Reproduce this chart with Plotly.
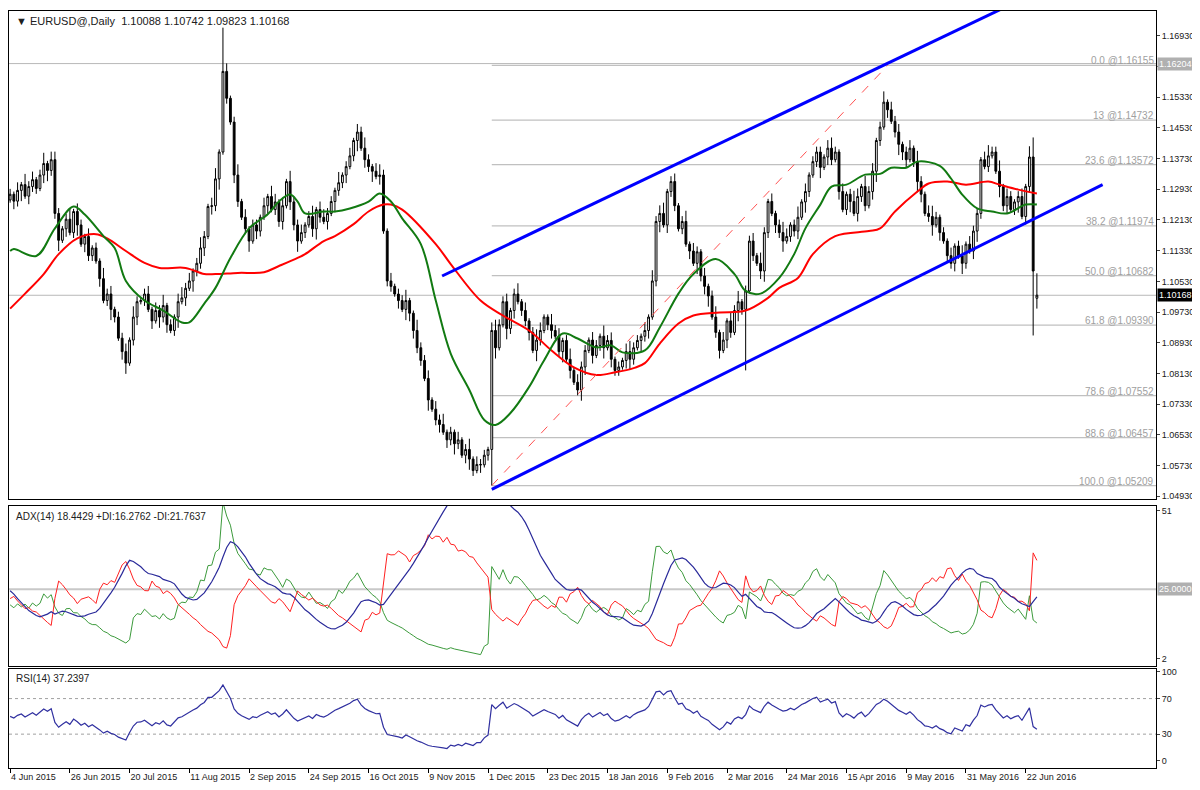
import pandas as pd
import numpy as np
import plotly.graph_objects as go

# daily closes, pips above 1.0000 (1280 -> 1.1280), 4 Jun 2015 .. 27 Jun 2016
closes = [
    1280, 1262, 1290, 1305, 1275, 1300, 1318, 1295, 1330, 1360,
    1342, 1370, 1230, 1160, 1190, 1215, 1180, 1235, 1200, 1150,
    1170, 1120, 1140, 1106, 1060, 1003, 1020, 980, 960, 905,
    870, 840, 900, 960, 1000, 1003, 1020, 980, 950, 977,
    960, 990, 940, 925, 960, 1000, 1010, 1035, 1054, 1080,
    1100, 1140, 1170, 1248, 1250, 1320, 1390, 1600, 1530, 1468,
    1330, 1261, 1220, 1190, 1158, 1200, 1184, 1220, 1250, 1274,
    1240, 1260, 1209, 1250, 1313, 1260, 1200, 1158, 1180, 1200,
    1222, 1190, 1240, 1220, 1209, 1230, 1261, 1290, 1310, 1330,
    1352, 1380, 1420, 1442, 1400, 1370, 1352, 1340, 1326, 1330,
    1184, 1054, 1040, 1020, 1003, 980, 1003, 970, 925, 880,
    847, 800, 744, 720, 692, 680, 660, 640, 660, 630,
    640, 600, 615, 590, 560, 576, 575, 600, 615, 925,
    880, 940, 1000, 930, 977, 1020, 1000, 977, 950, 920,
    873, 900, 925, 960, 940, 925, 910, 870, 899, 850,
    821, 790, 770, 830, 873, 900, 860, 886, 910, 880,
    899, 850, 821, 830, 847, 870, 850, 880, 899, 910,
    925, 960, 1054, 1209, 1230, 1200, 1287, 1313, 1250, 1190,
    1209, 1150, 1132, 1100, 1130, 1067, 1040, 1015, 960, 920,
    873, 900, 950, 920, 977, 1000, 980, 1028, 1158, 1120,
    1100, 1080, 1180, 1261, 1230, 1200, 1180, 1158, 1170, 1200,
    1184, 1220, 1260, 1287, 1330, 1365, 1390, 1350, 1377, 1400,
    1370, 1390, 1287, 1240, 1280, 1261, 1230, 1274, 1300, 1250,
    1287, 1340, 1420, 1455, 1520, 1500, 1470, 1442, 1410, 1390,
    1370, 1400, 1365, 1313, 1280, 1230, 1222, 1200, 1220, 1180,
    1158, 1120, 1100, 1145, 1119, 1100, 1150, 1132, 1184, 1230,
    1370, 1352, 1380, 1390, 1340, 1300, 1250, 1274, 1240, 1260,
    1274, 1222, 1300, 1377, 1080, 1017,
]
first_open = 1265
market_holidays = ["2015-12-25", "2016-01-01"]
# wick lengths per bar, units of 7 pips
wick_up = ("213142312413" "321241321312" "142312231421" "231324121342" "312421341231"
           "241312213143" "131422312413" "322141231324" "213421312241" "142231324121"
           "312413221342" "231241312431" "142312413221" "321423121342" "213142341231"
           "241321312413" "132412231421" "312431241312" "221342131243" "142312413231"
           "231421342121" "312413221342" "241321231413")
wick_dn = ("132413221342" "241312413221" "312421341231" "213142312413" "142231324121"
           "321241321312" "231324121342" "131422312413" "241312213143" "322141231324"
           "213421312241" "142312231421" "231241312431" "312413221342" "142312413221"
           "213142341231" "321423121342" "132412231421" "241321312413" "221342131243"
           "312431241312" "231421342121" "142312413231")
# bars with notable extremes: index -> (open, high, low)
special = {57: (None, 1714, None), 129: (None, None, 521), 197: (None, None, 821),
           274: (None, 1428, 912), 275: (1009, 1074, 982)}

# moving averages: (bar index, price)
ma_fast_idx = [0, 1, 7, 12, 17, 20, 25, 28, 31, 36, 41, 46, 48, 52, 55, 59, 64, 69, 72, 75, 77, 79, 84, 87,
               91, 96, 99, 102, 105, 110, 114, 118, 123, 127, 130, 134, 139, 143, 148, 152, 157, 161, 164,
               170, 174, 179, 183, 189, 194, 197, 201, 206, 210, 213, 217, 220, 224, 229, 233, 236, 240,
               243, 249, 252, 255, 259, 263, 267, 272, 275]
ma_fast = [1.1132, 1.1137, 1.1119, 1.1191, 1.1248, 1.1227, 1.1171, 1.1140, 1.1054, 1.1003, 1.0977, 1.0946,
           1.0946, 1.0995, 1.1036, 1.1114, 1.1191, 1.1228, 1.1261, 1.1279, 1.1261, 1.1230, 1.1235, 1.1235,
           1.1243, 1.1261, 1.1282, 1.1261, 1.1217, 1.1150, 1.1003, 1.0865, 1.0770, 1.0692, 1.0679, 1.0710,
           1.0778, 1.0847, 1.0917, 1.0904, 1.0881, 1.0886, 1.0868, 1.0873, 1.0933, 1.1021, 1.1072, 1.1111,
           1.1072, 1.1028, 1.1021, 1.1062, 1.1124, 1.1191, 1.1253, 1.1300, 1.1305, 1.1331, 1.1333, 1.1349,
           1.1349, 1.1365, 1.1354, 1.1321, 1.1279, 1.1243, 1.1235, 1.1230, 1.1253, 1.1253]
ma_slow_idx = [0, 4, 9, 13, 18, 23, 26, 31, 36, 40, 47, 52, 55, 61, 68, 72, 77, 79, 84, 87, 92, 96, 100, 102,
               105, 114, 118, 126, 132, 139, 145, 151, 157, 162, 167, 170, 174, 179, 183, 190, 197, 203, 206,
               211, 215, 221, 230, 233, 237, 243, 246, 251, 256, 262, 265, 270, 275]
ma_slow = [1.0982, 1.1021, 1.1072, 1.1124, 1.1165, 1.1176, 1.1165, 1.1132, 1.1101, 1.1088, 1.1088, 1.1072,
           1.1072, 1.1075, 1.1077, 1.1093, 1.1114, 1.1124, 1.1158, 1.1171, 1.1202, 1.1235, 1.1253, 1.1253,
           1.1240, 1.1150, 1.1098, 1.1003, 1.0964, 1.0925, 1.0873, 1.0829, 1.0809, 1.0816, 1.0827, 1.0840,
           1.0891, 1.0943, 1.0964, 1.0972, 1.0977, 1.1010, 1.1036, 1.1062, 1.1124, 1.1171, 1.1184, 1.1191,
           1.1235, 1.1287, 1.1308, 1.1313, 1.1305, 1.1313, 1.1305, 1.1292, 1.1282]

# channel and fibonacci drawings
chan_up_idx, chan_up_px = [115.7, 267.3], [1.1067, 1.1771]
chan_dn_idx, chan_dn_px = [129, 292.6], [1.0511, 1.1305]
fib_diag_idx, fib_diag_px = [129, 235], [1.05209, 1.16155]
fib_levels = ["0.0", "13", "23.6", "38.2", "50.0", "61.8", "78.6", "88.6", "100.0"]
fib_prices = [1.16155, 1.14732, 1.13572, 1.11974, 1.10682, 1.09390, 1.07552, 1.06457, 1.05209]
fib_start = 129
price_ticks = [1.16930, 1.16130, 1.15330, 1.14530, 1.13730, 1.12930, 1.12130, 1.11330, 1.10530,
               1.09730, 1.08930, 1.08130, 1.07330, 1.06530, 1.05730, 1.04930]
hi_line, last_price = 1.16204, 1.10168

# ---- build OHLC
n = len(closes)
c = np.array([1 + v / 10000 for v in closes])
o = np.concatenate([[1 + first_open / 10000], c[:-1]])
h = np.maximum(o, c) + np.array([int(d) for d in wick_up[:n]]) * 0.0007
l = np.minimum(o, c) - np.array([int(d) for d in wick_dn[:n]]) * 0.0007
for i, (so, sh, sl) in special.items():
    if so is not None:
        o[i] = 1 + so / 10000
    if sh is not None:
        h[i] = 1 + sh / 10000
    if sl is not None:
        l[i] = 1 + sl / 10000
x = np.arange(n)
dates = pd.bdate_range("2015-06-04", periods=n, freq="C", holidays=market_holidays)


# ---- indicators (Wilder smoothing, seeded with neutral starting values)
def wilder(vals, seed, p=14):
    out, s = [], seed
    for v in vals:
        s = s + (v - s) / p
        out.append(s)
    return np.array(out)


pc = np.concatenate([[o[0]], c[:-1]])
tr = np.maximum.reduce([h - l, np.abs(h - pc), np.abs(l - pc)])
upm = np.concatenate([[0], np.diff(h)])
dnm = np.concatenate([[0], -np.diff(l)])
pdm = np.where((upm > dnm) & (upm > 0), upm, 0.0)
ndm = np.where((dnm > upm) & (dnm > 0), dnm, 0.0)
atr = wilder(tr, tr.mean())
pdi = 100 * wilder(pdm, pdm.mean()) / atr
ndi = 100 * wilder(ndm, ndm.mean()) / atr
dx = 100 * np.abs(pdi - ndi) / (pdi + ndi)
adx = wilder(dx, dx.mean())
dc = np.diff(c, prepend=c[0])
g, ls_ = np.clip(dc, 0, None), np.clip(-dc, 0, None)
half = np.abs(dc).mean() / 2
rsi = 100 - 100 / (1 + wilder(g, half) / wilder(ls_, half))

FONT = "Liberation Sans"
fig = go.Figure()
fig.add_trace(go.Candlestick(
    x=x, open=o, high=h, low=l, close=c, whiskerwidth=0,
    increasing=dict(line=dict(color="black", width=1), fillcolor="white"),
    decreasing=dict(line=dict(color="black", width=1), fillcolor="black"),
    xaxis="x", yaxis="y", showlegend=False, hoverinfo="skip"))
fig.add_trace(go.Scatter(x=ma_slow_idx, y=ma_slow, mode="lines", line=dict(color="#ff0000", width=2, shape="spline"),
                         xaxis="x", yaxis="y", showlegend=False))
fig.add_trace(go.Scatter(x=ma_fast_idx, y=ma_fast, mode="lines", line=dict(color="#127a12", width=2, shape="spline"),
                         xaxis="x", yaxis="y", showlegend=False))
fig.add_trace(go.Scatter(x=chan_up_idx, y=chan_up_px, mode="lines", line=dict(color="#0000ff", width=3),
                         xaxis="x", yaxis="y", showlegend=False))
fig.add_trace(go.Scatter(x=chan_dn_idx, y=chan_dn_px, mode="lines", line=dict(color="#0000ff", width=3),
                         xaxis="x", yaxis="y", showlegend=False))
fig.add_trace(go.Scatter(x=fib_diag_idx, y=fib_diag_px, mode="lines", line=dict(color="#ff5050", width=1, dash="dash"),
                         xaxis="x", yaxis="y", showlegend=False))

XMIN, XMAX = -0.3, 306.9
shapes = []
for lv, p in zip(fib_levels, fib_prices):
    shapes.append(dict(type="line", xref="x", yref="y", x0=fib_start, x1=XMAX, y0=p, y1=p,
                       line=dict(color="#c0c0c0", width=1.3), layer="below"))
for p in (hi_line, last_price):
    shapes.append(dict(type="line", xref="x", yref="y", x0=XMIN, x1=XMAX, y0=p, y1=p,
                       line=dict(color="#b8b8b8", width=1), layer="below"))
shapes.append(dict(type="line", xref="x2", yref="y2", x0=XMIN, x1=XMAX, y0=25, y1=25,
                   line=dict(color="#c8c8c8", width=2), layer="below"))
for v in (70, 30):
    shapes.append(dict(type="line", xref="x3", yref="y3", x0=XMIN, x1=XMAX, y0=v, y1=v,
                       line=dict(color="#a0a0a0", width=1, dash="dot"), layer="below"))

# ADX panel
fig.add_trace(go.Scatter(x=x, y=pdi, mode="lines", line=dict(color="#3c9a3c", width=1), xaxis="x2", yaxis="y2", showlegend=False))
fig.add_trace(go.Scatter(x=x, y=ndi, mode="lines", line=dict(color="#ff2020", width=1), xaxis="x2", yaxis="y2", showlegend=False))
fig.add_trace(go.Scatter(x=x, y=adx, mode="lines", line=dict(color="#2a2a9a", width=1.2), xaxis="x2", yaxis="y2", showlegend=False))
# RSI panel
fig.add_trace(go.Scatter(x=x, y=rsi, mode="lines", line=dict(color="#3030a0", width=1.2), xaxis="x3", yaxis="y3", showlegend=False))

tick_idx = list(range(0, n, 16))
tick_txt = [f"{dates[i].day} {dates[i].strftime('%b %Y')}" for i in tick_idx]

ax_common = dict(showgrid=False, zeroline=False, showline=True, linecolor="black", linewidth=1, mirror=True,
                 range=[XMIN, XMAX], fixedrange=True)
ann = []
ann.append(dict(xref="paper", yref="paper", x=0.004, y=0.996, xanchor="left", yanchor="top", showarrow=False,
                text="▼ EURUSD@,Daily  1.10088 1.10742 1.09823 1.10168", font=dict(size=11, color="#202020", family=FONT)))
ann.append(dict(xref="paper", yref="paper", x=0.004, y=0.359, xanchor="left", yanchor="top", showarrow=False,
                text="ADX(14) 18.4429 +DI:16.2762 -DI:21.7637", font=dict(size=10, color="#202020", family=FONT)))
ann.append(dict(xref="paper", yref="paper", x=0.004, y=0.151, xanchor="left", yanchor="top", showarrow=False,
                text="RSI(14) 37.2397", font=dict(size=10, color="#202020", family=FONT)))
for lv, p in zip(fib_levels, fib_prices):
    ann.append(dict(xref="x", yref="y", x=XMAX, y=p, xanchor="right", yanchor="bottom", showarrow=False,
                    text=f"{lv} @{p:.5f}", font=dict(size=10, color="#a0a0a0", family=FONT), yshift=-3))
ann.append(dict(xref="paper", yref="y", x=1.0, y=hi_line, xanchor="left", showarrow=False, text=f"{hi_line:.5f}",
                bgcolor="#b0b0b0", font=dict(size=9, color="white", family=FONT), xshift=1, borderpad=1))
ann.append(dict(xref="paper", yref="y", x=1.0, y=last_price, xanchor="left", showarrow=False, text=f"{last_price:.5f}",
                bgcolor="black", font=dict(size=9, color="white", family=FONT), xshift=1, borderpad=1))
ann.append(dict(xref="paper", yref="y2", x=1.0, y=25, xanchor="left", showarrow=False, text="25.0000",
                bgcolor="#b0b0b0", font=dict(size=9, color="white", family=FONT), xshift=1, borderpad=1))

tickfont = dict(size=9, color="#202020", family=FONT)
fig.update_layout(
    width=1192, height=782, margin=dict(l=0, r=44, t=0, b=0),
    paper_bgcolor="white", plot_bgcolor="white", shapes=shapes, annotations=ann,
    xaxis=dict(**ax_common, domain=[0, 1], anchor="y", showticklabels=False, rangeslider=dict(visible=False)),
    xaxis2=dict(**ax_common, domain=[0, 1], anchor="y2", showticklabels=False),
    xaxis3=dict(**ax_common, domain=[0, 1], anchor="y3", tickmode="array", tickvals=tick_idx, ticktext=tick_txt,
                ticks="outside", ticklen=4, tickcolor="black", tickfont=tickfont, tickangle=0,
                ticklabelposition="outside right"),
    yaxis=dict(showgrid=False, zeroline=False, showline=True, linecolor="black", mirror=True, side="right",
               domain=[0.371, 0.999], range=[1.0485, 1.1758], tickmode="array", tickvals=price_ticks,
               ticktext=[f"{t:.5f}" for t in price_ticks], ticks="outside", ticklen=3, tickfont=tickfont, fixedrange=True),
    yaxis2=dict(showgrid=False, zeroline=False, showline=True, linecolor="black", mirror=True, side="right",
                domain=[0.157, 0.363], range=[-0.3, 52.6], tickmode="array", tickvals=[2, 51], ticks="outside",
                ticklen=3, tickfont=tickfont, fixedrange=True),
    yaxis3=dict(showgrid=False, zeroline=False, showline=True, linecolor="black", mirror=True, side="right",
                domain=[0.026, 0.153], range=[-7.8, 103.3], tickmode="array", tickvals=[0, 30, 70, 100], ticks="outside",
                ticklen=3, tickfont=tickfont, fixedrange=True),
)
fig.write_html("out.html")
